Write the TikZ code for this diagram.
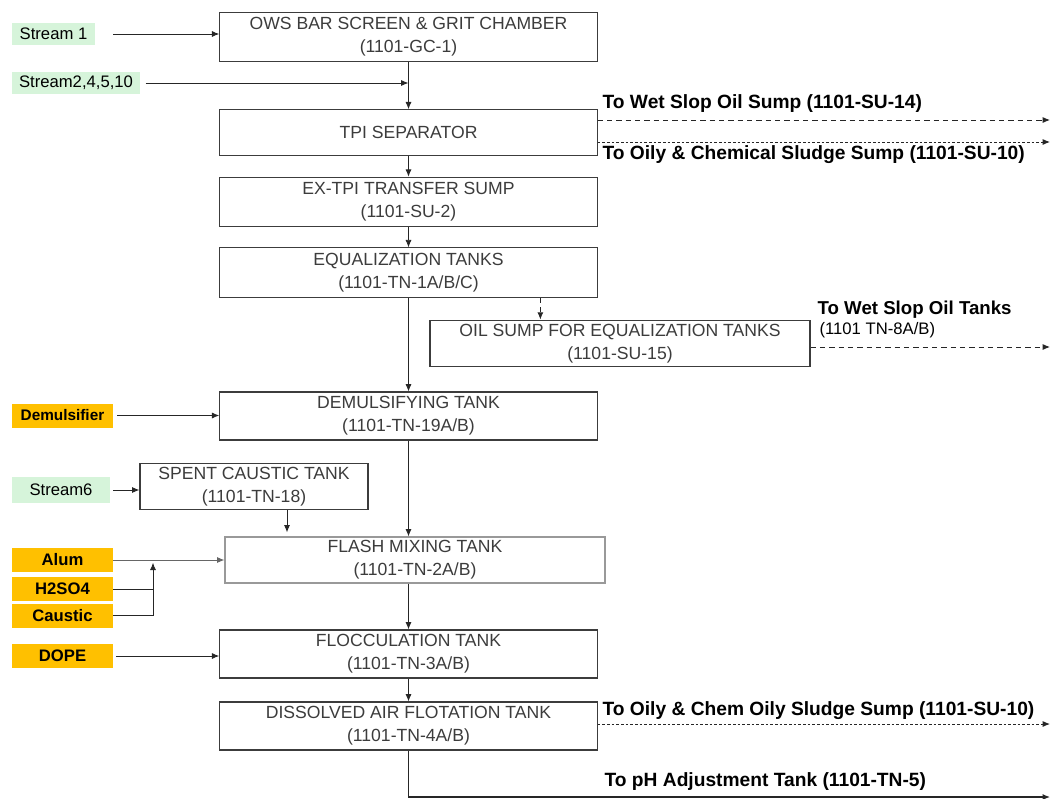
\documentclass[tikz,border=0pt]{standalone}
\usepackage{fontspec}
\setmainfont{Liberation Sans}
\usepackage{xcolor}
\definecolor{mint}{RGB}{214, 244, 218}
\definecolor{amber}{RGB}{255, 192,   0}
\definecolor{inkgray}{RGB}{ 60,  60,  60}
\usepackage{tikz}
\usetikzlibrary{arrows.meta, positioning, calc}

\tikzset{
  unit/.style={draw=inkgray, line width=0.8pt, fill=white, align=center,
    text=inkgray, font=\fontsize{13.2}{17.5}\selectfont,
    minimum width=283pt, minimum height=37pt, inner sep=2pt},
  feedtag/.style={fill=mint, font=\fontsize{12.5}{13}\selectfont,
    minimum height=17pt, inner sep=1pt},
  chemtag/.style={fill=amber, font=\bfseries\fontsize{12.5}{13}\selectfont,
    minimum width=76pt, minimum height=18pt, inner sep=1pt},
  flow/.style={draw=black!85, line width=0.7pt, -{Latex[length=5.5pt,width=4.5pt]}},
  dashflow/.style={flow, dash pattern=on 4pt off 3pt},
  dotflow/.style={flow, dash pattern=on 2pt off 1.5pt},
  outlabel/.style={font=\bfseries\fontsize{14.4}{15}\selectfont, inner sep=1pt}
}

\begin{document}
\begin{tikzpicture}[x=0.75pt, y=-0.75pt]
  \useasboundingbox (0,0) rectangle (1056,799);

  % process units
  \node[unit] (ows) at (408.5,37) {OWS BAR SCREEN \& GRIT CHAMBER\\(1101-GC-1)};
  \node[unit, minimum height=34pt] (tpi) at (408.5,132.5) {TPI SEPARATOR};
  \node[unit] (extpi) at (408.5,202) {EX-TPI TRANSFER SUMP\\(1101-SU-2)};
  \node[unit] (eqtank) at (408.5,272.5) {EQUALIZATION TANKS\\(1101-TN-1A/B/C)};
  \node[unit, minimum width=285pt, minimum height=35pt] (oilsump) at (620,343.5)
    {OIL SUMP FOR EQUALIZATION TANKS\\(1101-SU-15)};
  \node[unit, minimum height=36pt] (demul) at (408.5,416) {DEMULSIFYING TANK\\(1101-TN-19A/B)};
  \node[unit, minimum width=171pt, minimum height=35pt] (spent) at (254,486.5)
    {SPENT CAUSTIC TANK\\(1101-TN-18)};
  \node[unit, draw=black!40, minimum width=285pt, minimum height=34.5pt] (flash) at (415,560)
    {FLASH MIXING TANK\\(1101-TN-2A/B)};
  \node[unit, minimum height=36pt] (floc) at (408.5,654) {FLOCCULATION TANK\\(1101-TN-3A/B)};
  \node[unit, minimum height=36pt] (daf) at (408.5,726) {DISSOLVED AIR FLOTATION TANK\\(1101-TN-4A/B)};

  % feeds
  \node[feedtag, minimum width=62pt] (s1) at (53.5,34) {Stream 1};
  \node[feedtag, minimum width=96pt] (s2) at (76,83) {Stream2,4,5,10};
  \node[feedtag, minimum width=73.5pt, minimum height=19pt] (s6) at (61,490) {Stream6};
  \node[chemtag, font=\bfseries\fontsize{11.5}{13}\selectfont] (demulsifier) at (62.5,415.5) {Demulsifier};
  \node[chemtag] (alum) at (62.5,560) {Alum};
  \node[chemtag] (acid) at (62.5,589) {H2SO4};
  \node[chemtag] (caustic) at (62.5,615.5) {Caustic};
  \node[chemtag] (dope) at (62.5,656) {DOPE};

  % free ends
  \coordinate (slopend) at (1050,120);
  \coordinate (sludgeend) at (1050,142);
  \coordinate (tankend) at (1050,347);
  \coordinate (dafend) at (1050,724);
  \coordinate (phend) at (1050,797);
  \coordinate (mix) at (153,560);

  % main line
  \draw[flow] (s1.east) ++(18,0) -- (s1.east -| ows.west);
  \draw[flow] ([xshift=4pt]s2.east) -- (s2.east -| ows.south);
  \draw[flow] (ows.south) -- (tpi.north);
  \draw[flow] (tpi.south) -- (extpi.north);
  \draw[flow, line width=0.5pt] (extpi.south) -- (eqtank.north);
  \draw[flow, line width=0.6pt] (eqtank.south) -- (demul.north);
  \draw[dashflow] ([xshift=-43pt]eqtank.south east) -- ([xshift=-43pt]eqtank.south east |- oilsump.north);
  \draw[flow] (demul.south) -- (demul.south |- flash.north);
  \draw[flow] ([xshift=24.75pt]spent.south) -- ([xshift=24.75pt,yshift=3pt]spent.south |- flash.north);
  \draw[flow] (s6.east) ++(3,0) -- (s6.east -| spent.west);
  \draw[flow] (demulsifier.east) ++(4,0) -- (demulsifier.east -| demul.west);
  \draw[flow, black!60] (alum.east) -- (alum.east -| flash.west);
  \draw[flow, -] (acid.east) -- (acid.east -| mix);
  \draw[flow] (caustic.east) -| ([yshift=-2pt]mix);
  \draw[flow] (dope.east) ++(3,0) -- (dope.east -| floc.west);
  \draw[flow] (flash.south -| floc.north) -- (floc.north);
  \draw[flow] (floc.south) -- (daf.north);

  % outlets
  \draw[dashflow] (tpi.east |- slopend) -- (slopend);
  \draw[dotflow] (tpi.east |- sludgeend) -- (sludgeend);
  \draw[dashflow] (oilsump.east |- tankend) -- (tankend);
  \draw[dotflow] (daf.east |- dafend) -- (dafend);
  \draw[flow, line width=0.9pt] (daf.south) |- (phend);

  \node[outlabel, anchor=south west] (slopLbl) at (601,114) {To Wet Slop Oil Sump (1101-SU-14)};
  \node[outlabel, anchor=north west] (sludgeLbl) at (601,144) {To Oily \& Chemical Sludge Sump (1101-SU-10)};
  \node[outlabel, anchor=south west, font=\bfseries\fontsize{14}{15}\selectfont] (tankLbl) at (816,320) {To Wet Slop Oil Tanks};
  \node[outlabel, anchor=south west, font=\fontsize{12.5}{13}\selectfont] (tankLbl2) at (818,340) {(1101 TN-8A/B)};
  \node[outlabel, anchor=south west] (dafLbl) at (601,721) {To Oily \& Chem Oily Sludge Sump (1101-SU-10)};
  \node[outlabel, anchor=south west] (phLbl) at (603,792) {To pH Adjustment Tank (1101-TN-5)};
\end{tikzpicture}
\end{document}
